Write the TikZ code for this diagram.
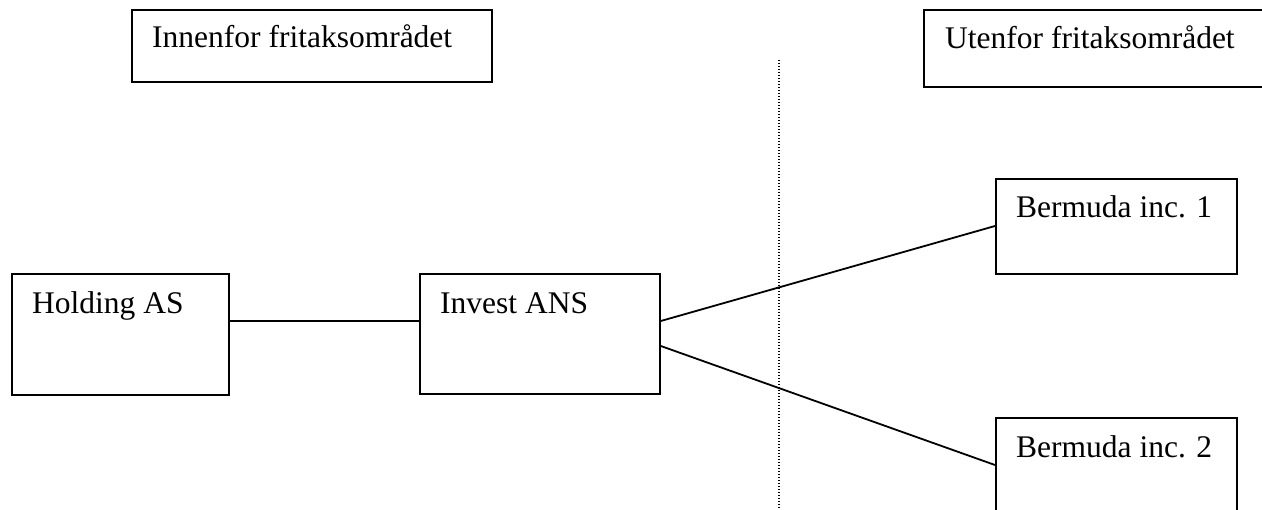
\documentclass[tikz,border=0pt]{standalone}
\usepackage{fontspec}
\setmainfont{Liberation Serif}
\begin{document}
\begin{tikzpicture}[x=1pt,y=-1pt,
  box/.style={draw,line width=1.8pt,rectangle,inner sep=0pt,anchor=north west},
  lbl/.style={anchor=base west,inner sep=0pt,font=\fontsize{31.5}{36}\selectfont},
  link/.style={line width=1.8pt},
  border/.style={line width=1.2pt,dash pattern=on 1.4pt off 1.6pt}]
\useasboundingbox (0,0) rectangle (1262,510);
\clip (0,0) rectangle (1262,510);
\fill[white] (0,0) rectangle (1262,510);

% zone headers
\node[box,minimum width=360pt,minimum height=72pt] (inner) at (131,9) {};
\node[lbl] (innert) at (152,48) {Innenfor fritaksområdet};
\node[box,minimum width=360pt,minimum height=77pt] (outer) at (923,9) {};
\node[lbl] (outert) at (945,49) {Utenfor fritaksområdet};

% dividing line between the two zones
\coordinate (divtop) at (779,60);
\coordinate (divbot) at (779,512);
\draw[border] (divtop) -- (divbot);

% companies
\node[box,minimum width=217pt,minimum height=121pt] (hold) at (11,273) {};
\node[lbl] (holdt) at (32,314) {Holding AS};
\node[box,minimum width=240pt,minimum height=120pt] (inv) at (419,273) {};
\node[lbl] (invt) at (440,314) {Invest ANS};
\node[box,minimum width=241pt,minimum height=95pt] (berm1) at (995,178) {};
\node[lbl] (berm1t) at (1016,218) {Bermuda inc. 1};
\node[box,minimum width=241pt,minimum height=95pt] (berm2) at (995,417) {};
\node[lbl] (berm2t) at (1016,458) {Bermuda inc. 2};

% ownership links
\draw[link] ([yshift=-48pt]hold.north east) -- ([yshift=-48pt]inv.north west);
\draw[link] ([yshift=-48pt]inv.north east) -- ([yshift=-48pt]berm1.north west);
\draw[link] ([yshift=-73pt]inv.north east) -- ([yshift=-48pt]berm2.north west);
\end{tikzpicture}
\end{document}
